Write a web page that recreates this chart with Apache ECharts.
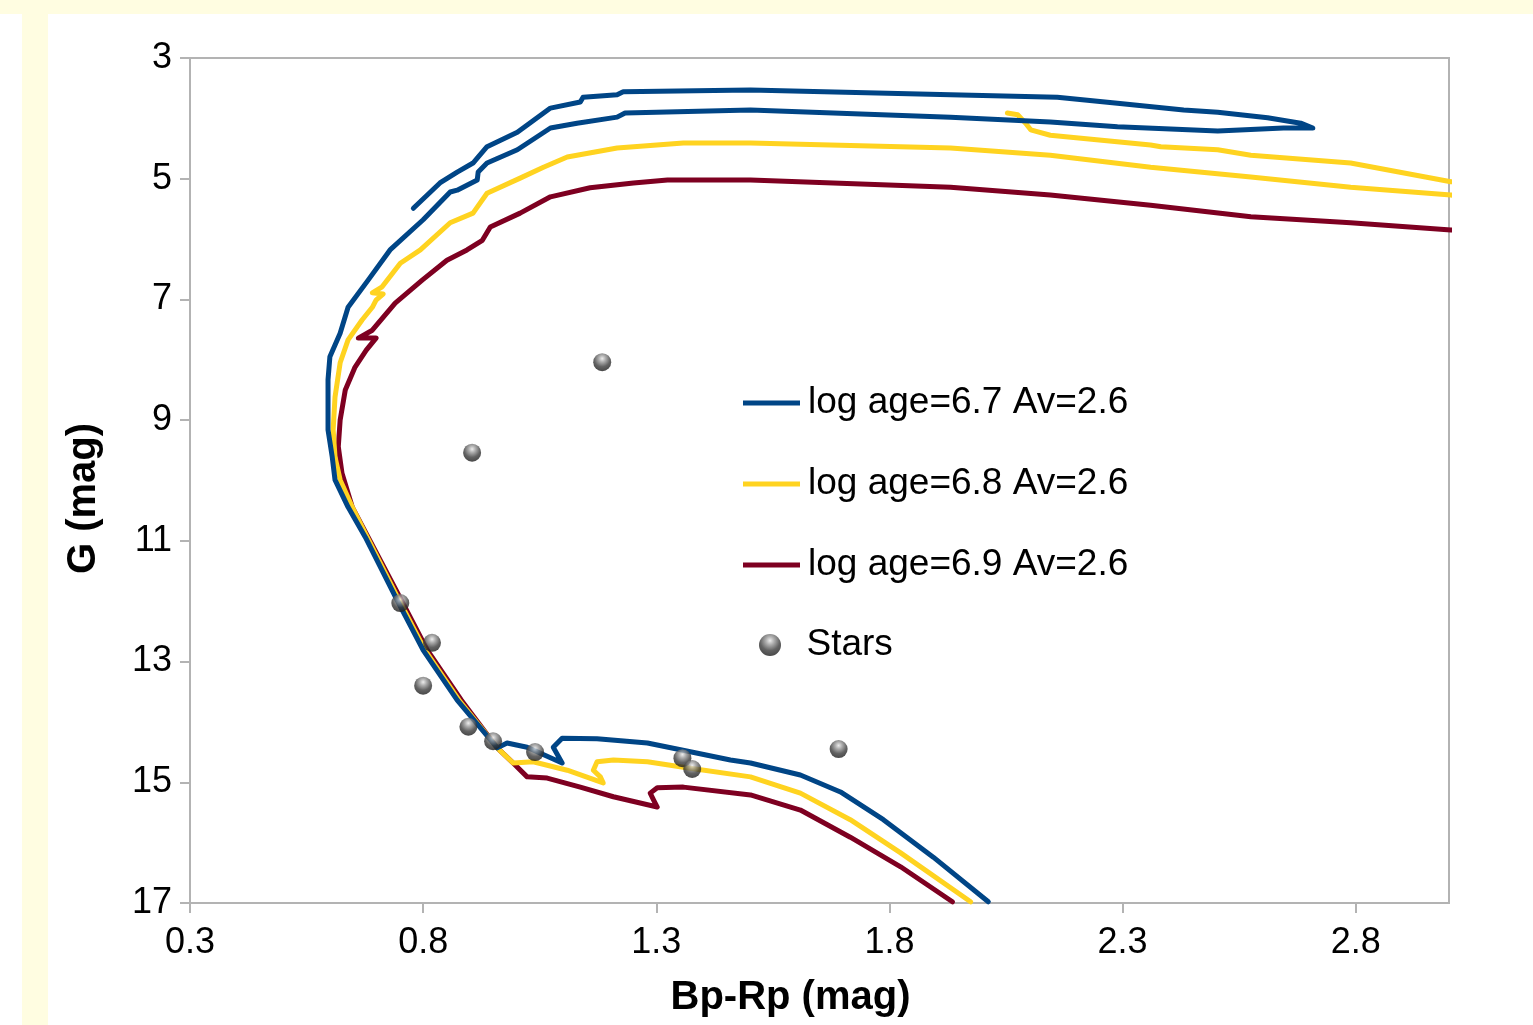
<!DOCTYPE html>
<html>
<head>
<meta charset="utf-8">
<script src="https://cdn.jsdelivr.net/npm/echarts@6/dist/echarts.min.js"></script>
<style>
html,body{margin:0;padding:0;background:#ffffff;}
#chart{width:1533px;height:1025px;}
</style>
</head>
<body>
<div id="chart"></div>
<script>
// ---- data ----
const xTicks = [0.3, 0.8, 1.3, 1.8, 2.3, 2.8];
const yTicks = [3, 5, 7, 9, 11, 13, 15, 17];

const seriesNames = ['log age=6.7 Av=2.6', 'log age=6.8 Av=2.6', 'log age=6.9 Av=2.6', 'Stars'];

// isochrone log age = 6.7 : [Bp-Rp, G]
const iso67 = [
  [2.012,16.98],[1.894,16.24],[1.787,15.62],[1.695,15.16],[1.609,14.88],[1.502,14.68],
  [1.459,14.63],[1.352,14.46],[1.281,14.35],[1.173,14.28],[1.098,14.27],[1.079,14.42],
  [1.098,14.68],[1.023,14.42],[0.980,14.35],[0.959,14.43],
  [0.873,13.64],[0.800,12.81],[0.744,11.98],[0.676,10.94],[0.639,10.44],[0.611,9.99],
  [0.605,9.61],[0.596,9.16],[0.596,8.33],[0.600,7.95],[0.622,7.56],[0.639,7.13],
  [0.682,6.68],[0.729,6.18],[0.800,5.68],[0.858,5.22],[0.873,5.19],[0.916,5.02],
  [0.918,4.89],[0.937,4.74],[1.002,4.52],[1.073,4.16],[1.130,4.08],[1.216,3.98],
  [1.233,3.91],[1.502,3.86],[1.931,3.98],[2.145,4.06],[2.289,4.14],[2.504,4.21],
  [2.645,4.16],[2.708,4.16],[2.682,4.08],[2.611,3.99],[2.504,3.90],[2.431,3.86],
  [2.289,3.75],[2.160,3.65],[1.931,3.61],[1.502,3.53],[1.229,3.56],[1.216,3.61],
  [1.143,3.65],[1.137,3.73],[1.073,3.83],[1.002,4.23],[0.937,4.47],[0.916,4.66],
  [0.907,4.74],[0.873,4.89],[0.836,5.07],[0.779,5.49]
];

// isochrone log age = 6.8
const iso68 = [
  [1.974,16.98],[1.824,16.17],[1.716,15.62],[1.609,15.18],[1.502,14.91],[1.358,14.75],
  [1.281,14.66],[1.208,14.63],[1.173,14.66],[1.165,14.80],[1.180,14.91],[1.186,15.01],
  [1.109,14.80],[1.036,14.66],[0.993,14.68],[0.959,14.43],
  [0.877,13.64],[0.804,12.81],[0.748,11.98],[0.680,10.94],[0.648,10.44],[0.622,9.99],
  [0.611,9.61],[0.607,9.16],[0.611,8.62],[0.622,8.05],[0.639,7.67],[0.669,7.34],
  [0.691,7.13],[0.699,7.01],[0.714,6.91],[0.691,6.89],[0.712,6.79],[0.751,6.40],
  [0.794,6.18],[0.858,5.73],[0.907,5.57],[0.916,5.47],[0.937,5.24],[1.008,4.99],
  [1.058,4.81],[1.109,4.64],[1.216,4.49],[1.358,4.41],[1.502,4.41],[1.931,4.49],
  [2.145,4.61],[2.360,4.81],[2.575,4.97],[2.789,5.14],[3.004,5.27],[3.10,5.34],
  [3.14,5.25],[3.10,5.12],[3.004,5.05],[2.789,4.74],[2.575,4.61],[2.504,4.52],
  [2.382,4.47],[2.360,4.44],[2.145,4.28],[2.103,4.19],[2.092,4.08],[2.075,3.94],
  [2.053,3.91]
];

// isochrone log age = 6.9
const iso69 = [
  [1.935,16.98],[1.824,16.40],[1.716,15.91],[1.609,15.46],[1.502,15.21],[1.358,15.08],
  [1.302,15.09],[1.287,15.18],[1.294,15.29],[1.302,15.41],[1.208,15.24],[1.137,15.08],
  [1.066,14.93],[1.023,14.91],[0.993,14.68],[0.959,14.43],
  [0.882,13.64],[0.809,12.81],[0.753,11.98],[0.682,10.94],[0.648,10.44],[0.626,9.88],
  [0.618,9.44],[0.622,9.00],[0.633,8.50],[0.654,8.12],[0.678,7.84],[0.699,7.64],
  [0.661,7.64],[0.691,7.51],[0.740,7.06],[0.798,6.68],[0.851,6.35],[0.894,6.18],
  [0.927,6.02],[0.944,5.80],[1.008,5.57],[1.073,5.30],[1.158,5.15],[1.251,5.07],
  [1.324,5.02],[1.502,5.02],[1.931,5.14],[2.145,5.27],[2.360,5.44],[2.575,5.63],
  [2.789,5.73],[3.004,5.85],[3.10,5.88]
];

// observed stars
const stars = [
  [1.184,8.04],[0.905,9.54],[0.751,12.03],[0.819,12.69],[0.800,13.40],[0.897,14.08],
  [0.950,14.32],[1.040,14.50],[1.356,14.60],[1.377,14.78],[1.691,14.45]
];

// ---- chart ----
const FONT = "'Liberation Sans', Arial, sans-serif";
const colors = ['#004586', '#ffd320', '#7e0021'];
const chart = echarts.init(document.getElementById('chart'), null, {renderer: 'canvas'});

const lineSeries = (name, data, color, z) => ({
  name: name, type: 'line', data: data, z: z,
  showSymbol: false, symbol: 'none', smooth: false, clip: true,
  color: color,
  itemStyle: {color: color},
  lineStyle: {color: color, width: 5, join: 'round', cap: 'round'},
  emphasis: {disabled: true}, silent: true
});

const starGradient = {
  type: 'radial', x: 0.5, y: 0.3, r: 0.75,
  colorStops: [
    {offset: 0, color: '#e8e8e8'},
    {offset: 0.25, color: '#9a9a9a'},
    {offset: 0.6, color: '#3c3c3c'},
    {offset: 1, color: '#141414'}
  ]
};

const option = {
  animation: false,
  backgroundColor: '#ffffff',
  textStyle: {fontFamily: FONT},
  graphic: [
    {type: 'rect', left: 0, top: 0, shape: {width: 1533, height: 14}, style: {fill: '#fffde1'}, silent: true, z: -10},
    {type: 'rect', left: 22, top: 14, shape: {width: 26, height: 1011}, style: {fill: '#fffde1'}, silent: true, z: -10}
  ],
  grid: {
    left: 190, top: 58, right: 84, bottom: 122,
    show: true, borderColor: '#b3b3b3', borderWidth: 2, backgroundColor: 'transparent'
  },
  legend: [
    {
      data: seriesNames.slice(0, 3),
      orient: 'vertical', left: 743, top: 383, padding: 0,
      icon: 'rect', itemWidth: 57, itemHeight: 5, itemGap: 41,
      itemStyle: {borderWidth: 0},
      textStyle: {fontFamily: FONT, fontSize: 37, color: '#000', lineHeight: 40, padding: [0, 0, 0, 3]},
      selectedMode: false
    },
    {
      data: [seriesNames[3]],
      orient: 'vertical', left: 759, top: 625, padding: 0,
      icon: 'circle', itemWidth: 57, itemHeight: 22,
      itemStyle: {borderWidth: 0},
      textStyle: {fontFamily: FONT, fontSize: 37, color: '#000', lineHeight: 40, padding: [0, 0, 0, 3]},
      selectedMode: false
    }
  ],
  xAxis: {
    type: 'value', min: 0.3, max: 3.0,
    name: 'Bp-Rp (mag)', nameLocation: 'middle', nameGap: 75,
    nameTextStyle: {fontFamily: FONT, fontSize: 40, fontWeight: 'bold', color: '#000', padding: [0, 58, 0, 0]},
    axisLine: {show: true, onZero: false, lineStyle: {color: '#b3b3b3', width: 2}},
    axisTick: {show: true, length: 10, lineStyle: {color: '#b3b3b3', width: 2}, customValues: xTicks},
    axisLabel: {show: true, margin: 22, fontFamily: FONT, fontSize: 36, color: '#000', customValues: xTicks,
      formatter: v => String(v)},
    splitLine: {show: false}
  },
  yAxis: {
    type: 'value', min: 3, max: 17, inverse: true,
    name: 'G (mag)', nameLocation: 'middle', nameGap: 86, nameRotate: 90,
    nameTextStyle: {fontFamily: FONT, fontSize: 40, fontWeight: 'bold', color: '#000', padding: [0, 36, 0, 0]},
    axisLine: {show: true, onZero: false, lineStyle: {color: '#b3b3b3', width: 2}},
    axisTick: {show: true, length: 10, lineStyle: {color: '#b3b3b3', width: 2}, customValues: yTicks},
    axisLabel: {show: true, margin: 18, fontFamily: FONT, fontSize: 36, color: '#000', customValues: yTicks},
    splitLine: {show: false}
  },
  series: [
    lineSeries(seriesNames[0], iso67, colors[0], 4),
    lineSeries(seriesNames[1], iso68, colors[1], 3),
    lineSeries(seriesNames[2], iso69, colors[2], 2),
    {
      name: seriesNames[3], type: 'scatter', data: stars, z: 5,
      symbol: 'circle', symbolSize: 18,
      itemStyle: {color: starGradient},
      emphasis: {disabled: true}, silent: true
    }
  ]
};
chart.setOption(option);
</script>
</body>
</html>
